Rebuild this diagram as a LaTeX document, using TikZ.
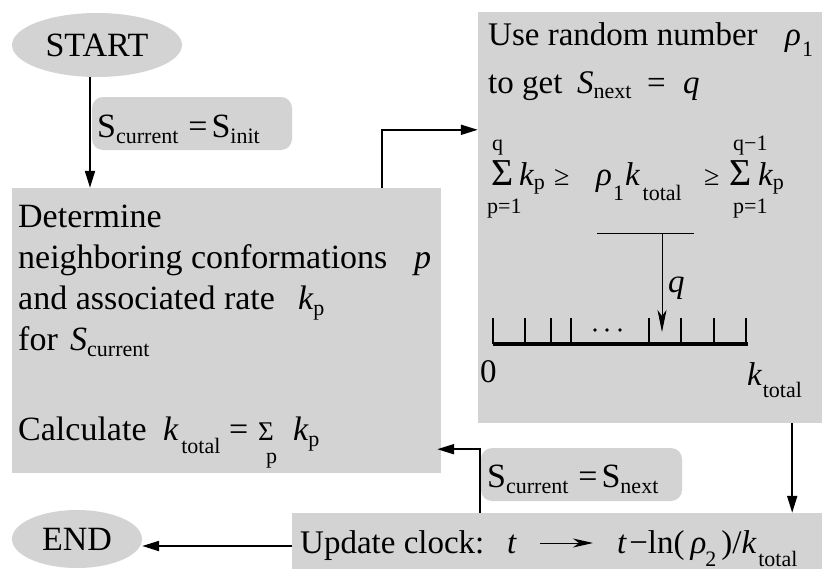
\documentclass[tikz,border=0pt]{standalone}
\usepackage{fontspec}
\setmainfont{Liberation Serif}
\usetikzlibrary{arrows.meta,shapes.geometric}
\definecolor{boxgray}{RGB}{211,211,211}
\newcommand\sbs[1]{{\fontsize{22}{22}\selectfont #1}}
\tikzset{
 box/.style={fill=boxgray, draw=none, rectangle, inner sep=0pt},
 lab/.style={fill=boxgray, draw=none, rounded corners=11pt, rectangle, inner sep=0pt},
 ell/.style={fill=boxgray, draw=none, ellipse, inner sep=0pt, font=\fontsize{34}{34}\selectfont},
 txt/.style={anchor=base west, inner sep=0pt, font=\fontsize{34}{34}\selectfont},
 txr/.style={anchor=base west, inner sep=0pt, font=\fontsize{33}{33}\selectfont},
 sml/.style={anchor=base west, inner sep=0pt, font=\fontsize{22}{22}\selectfont},
 conn/.style={line width=2pt, -{Triangle[length=17pt,width=10pt]}},
 thinarr/.style={line width=1pt, -{Stealth[length=22pt,width=9pt,inset=6pt]}},
}
\begin{document}
\begin{tikzpicture}[x=1pt,y=-1pt]
\useasboundingbox (0,0) rectangle (822,570);
% shapes
\node[ell, minimum width=170pt, minimum height=64pt] (start) at (97,45) {START};
\node[ell, minimum width=130pt, minimum height=58pt] (end) at (77,539) {END};
\node[box, minimum width=429pt, minimum height=285pt] (det) at (226.5,330.5) {};
\node[box, minimum width=344pt, minimum height=411pt] (rnd) at (650,217.5) {};
\node[box, minimum width=530pt, minimum height=56pt] (upd) at (557,541) {};
\node[lab, minimum width=200pt, minimum height=53pt] (l1) at (192,123.5) {};
\node[lab, minimum width=201pt, minimum height=53pt] (l2) at (581.5,474.5) {};
% label texts
\node[txt] (l1t) at (97,137) {S\lower6pt\hbox{\sbs{current}}\hspace{10pt}=\hspace{4pt}S\lower6pt\hbox{\sbs{init}}};
\node[txt] (l2t) at (487,487) {S\lower6pt\hbox{\sbs{current}}\hspace{10pt}=\hspace{4pt}S\lower6pt\hbox{\sbs{next}}};
% left box text
\node[txt] (d1) at (18,227) {Determine};
\node[txt] (d2) at (18,268) {neighboring conformations};
\node[txt] (d2p) at (414,268) {\itshape p};
\node[txt] (d3) at (18,309) {and associated rate};
\node[txt] (d3k) at (298,309) {{\itshape k}\lower6pt\hbox{\sbs{p}}};
\node[txt] (d4) at (18,350) {for};
\node[txt] (d4s) at (70,350) {{\itshape S}\lower6pt\hbox{\sbs{current}}};
\node[txt] (d5) at (18,440) {Calculate};
\node[txt] (d5k) at (163,440) {{\itshape k}\hspace{3pt}\lower13pt\hbox{\sbs{total}}};
\node[txt] (d5e) at (229,440) {=};
\node[txt, font=\fontsize{27}{27}\selectfont] (d5s) at (258,440) {\rlap{\hspace{8pt}\raisebox{-23pt}{\sbs{p}}}Σ};
\node[txt] (d5k2) at (293,440) {{\itshape k}\lower6pt\hbox{\sbs{p}}};
% right box text
\node[txr] (r1) at (488,45) {Use random number};
\node[txr] (r1r) at (785,45) {{\itshape ρ}\kern1pt\lower12pt\hbox{\sbs{1}}};
\node[txr] (r2) at (488,93) {to get};
\node[txr] (r2s) at (577,93) {{\itshape S}\lower5pt\hbox{\sbs{next}}};
\node[txr] (r2e) at (647,93) {=};
\node[txr] (r2q) at (683,93) {\itshape q};
\node[txr, font=\fontsize{38}{38}\selectfont] (r3b) at (491,185)
  {\rlap{\hspace{1pt}\raisebox{35pt}{\sbs{q}}}\rlap{\hspace{-4pt}\raisebox{-28pt}{\sbs{p=1}}}Σ};
\node[txr] (r3c) at (519,185) {{\itshape k}\lower4pt\hbox{\sbs{p}}};
\node[txr, font=\fontsize{28}{28}\selectfont] (r3d) at (554,185) {≥};
\node[txr] (r3e) at (596,185) {{\itshape ρ}\kern1pt\lower15pt\hbox{\sbs{1}}\kern1pt{\itshape k}\kern3pt\lower15pt\hbox{\sbs{total}}};
\node[txr, font=\fontsize{28}{28}\selectfont] (r3i) at (704,185) {≥};
\node[txr, font=\fontsize{38}{38}\selectfont] (r3k) at (729,185)
  {\rlap{\hspace{4pt}\raisebox{35pt}{\sbs{q−1}}}\rlap{\hspace{4pt}\raisebox{-28pt}{\sbs{p=1}}}Σ};
\node[txr] (r3l) at (758,185) {{\itshape k}\lower4pt\hbox{\sbs{p}}};
% ruler
\coordinate (h1) at (597,233);
\coordinate (h2) at (694,233);
\draw[line width=1pt] (h1) -- (h2);
\coordinate (qa) at (662,233);
\coordinate (qb) at (662,332);
\draw[thinarr] (qa) -- (qb);
\node[txr] (qlab) at (668,292) {\itshape q};
\coordinate (rl) at (493,344);
\coordinate (rr) at (748,344);
\draw[line width=3.5pt] (rl) -- (rr);
\foreach \x in {493,525,551,571,649,681,714,746}
  \draw[line width=1.5pt] (\x,344) -- (\x,318);
\foreach \x in {595,607,620}
  \fill (\x,330) circle (1.8pt);
\node[txr] (zero) at (480,382) {0};
\node[txr] (kt) at (747,385) {{\itshape k}\kern1pt\lower12pt\hbox{\sbs{total}}};
% update text
\node[txr] (u1) at (300,553) {Update clock:};
\node[txr] (u2) at (507,553) {\itshape t};
\coordinate (ua1) at (540,543);
\coordinate (ua2) at (593,543);
\draw[line width=1pt, -{Stealth[length=20pt,width=9pt,inset=6pt]}] (ua1) -- (ua2);
\node[txr] (u3) at (617,553) {{\itshape t}\kern3pt−ln(\kern6pt{\itshape ρ}\kern-1pt\lower13pt\hbox{\sbs{2}}\kern5pt)/{\itshape k}\kern2pt\lower13pt\hbox{\sbs{total}}};
% connectors
\draw[conn] ([xshift=-7pt]start.south) -- ([xshift=-7pt]start.south |- det.north);
\draw[conn] ([xshift=-59pt]det.north east) |- ([yshift=-118pt]rnd.north west);
\draw[conn] ([xshift=-30pt]rnd.south east) -- ([xshift=-30pt]rnd.south east |- upd.north);
\draw[conn, shorten >=-4pt] ([xshift=188pt]upd.north west) |- ([yshift=24pt]det.south east);
\draw[conn] ([yshift=-5pt]upd.west) -- ([yshift=-5pt]upd.west -| end.east);
\end{tikzpicture}
\end{document}
